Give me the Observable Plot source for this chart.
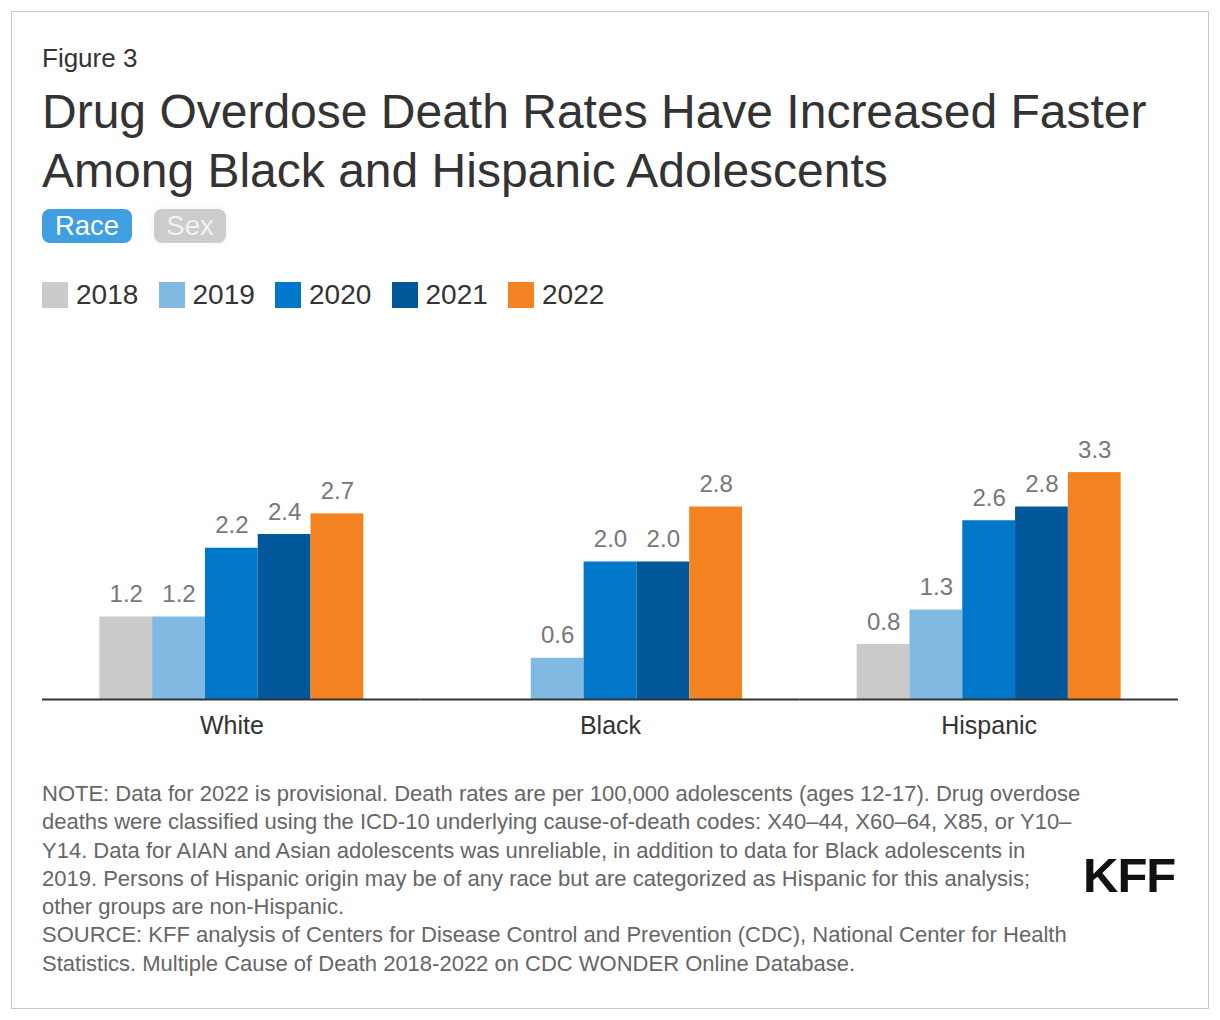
<!DOCTYPE html>
<html>
<head>
<meta charset="utf-8">
<script src="https://cdn.jsdelivr.net/npm/d3@7"></script>
<script src="https://cdn.jsdelivr.net/npm/@observablehq/plot@0.6"></script>
<style>
  html, body { margin: 0; padding: 0; background: #fff; }
  body { width: 1220px; height: 1020px; position: relative; font-family: "Liberation Sans", Arial, Helvetica, sans-serif; color: #333; overflow: hidden; }
  .frame { position: absolute; left: 11px; top: 11px; width: 1196px; height: 996px; border: 1px solid #c8c8c8; }
  .abs { position: absolute; }
  #fig { left: 42px; top: 43px; font-size: 26px; line-height: 30px; color: #333; }
  #title { left: 42px; top: 82px; font-size: 48px; line-height: 59px; color: #333; width: 1170px; white-space: nowrap; }
  .pill { position: absolute; top: 209px; height: 34px; border-radius: 8px; color: #fff; font-size: 27.5px; line-height: 34px; text-align: center; }
  #legend { left: 42px; top: 280px; display: flex; height: 30px; align-items: center; }
  .item { display: flex; align-items: center; width: 116.5px; font-size: 28px; color: #333; }
  .sw { width: 26px; height: 26px; margin-right: 8px; flex: none; }
  #chart { left: 0; top: 320px; }
  #note { left: 42px; top: 780px; font-size: 22px; line-height: 28.3px; color: #666; white-space: nowrap; }
  #kff { left: 1083px; top: 845px; font-size: 49px; font-weight: bold; color: #111; letter-spacing: -1px; line-height: 60px; }
</style>
</head>
<body>
<div class="frame"></div>
<div id="fig" class="abs">Figure 3</div>
<div id="title" class="abs">Drug Overdose Death Rates Have Increased Faster<br>Among Black and Hispanic Adolescents</div>
<div class="pill" style="left:42px;width:90px;background:#3f9fe0;">Race</div>
<div class="pill" style="left:154px;width:72px;background:#cccccc;color:#f2f2f2;box-shadow:0 0 8px rgba(0,0,0,0.06);">Sex</div>
<div id="legend" class="abs"></div>
<div id="chart" class="abs"></div>
<div id="note" class="abs">NOTE: Data for 2022 is provisional. Death rates are per 100,000 adolescents (ages 12-17). Drug overdose<br>deaths were classified using the ICD-10 underlying cause-of-death codes: X40–44, X60–64, X85, or Y10–<br>Y14. Data for AIAN and Asian adolescents was unreliable, in addition to data for Black adolescents in<br>2019. Persons of Hispanic origin may be of any race but are categorized as Hispanic for this analysis;<br>other groups are non-Hispanic.<br>SOURCE: KFF analysis of Centers for Disease Control and Prevention (CDC), National Center for Health<br>Statistics. Multiple Cause of Death 2018-2022 on CDC WONDER Online Database.</div>
<div id="kff" class="abs">KFF</div>
<script>
const groups = ["White", "Black", "Hispanic"];
const years = ["2018", "2019", "2020", "2021", "2022"];
const colors = ["#cbcbcb", "#80bae2", "#0077c8", "#00589a", "#f58220"];
const whiteValues = [1.2, 1.2, 2.2, 2.4, 2.7];
const blackValues = [null, 0.6, 2.0, 2.0, 2.8];
const hispanicValues = [0.8, 1.3, 2.6, 2.8, 3.3];

const seriesByGroup = [whiteValues, blackValues, hispanicValues];
const data = [];
groups.forEach((g, gi) => {
  years.forEach((y, yi) => {
    const v = seriesByGroup[gi][yi];
    if (v != null) data.push({group: g, year: y, value: v});
  });
});

const legend = document.getElementById("legend");
years.forEach((y, i) => {
  const it = document.createElement("div");
  it.className = "item";
  it.innerHTML = `<div class="sw" style="background:${colors[i]}"></div><span>${y}</span>`;
  legend.appendChild(it);
});

const chart = Plot.plot({
  width: 1220,
  height: 440,
  marginLeft: 42,
  marginRight: 42,
  marginTop: 104,
  marginBottom: 61,
  style: {fontFamily: "'Liberation Sans', Arial, sans-serif", fontSize: "25px", color: "#333", background: "transparent"},
  fx: {domain: groups, padding: 0, round: false, label: null, tickSize: 0, tickPadding: 17, axis: "bottom"},
  x: {domain: years, paddingInner: 0, paddingOuter: 1.086, round: false, axis: null},
  y: {domain: [0, 4], axis: null},
  color: {domain: years, range: colors},
  marks: [
    Plot.barY(data, {fx: "group", x: "year", y: "value", fill: "year"}),
    Plot.text(data, {fx: "group", x: "year", y: "value", text: d => d.value.toFixed(1), dy: -15, lineAnchor: "bottom", fill: "#777", fontSize: 24}),
    Plot.ruleY([0], {stroke: "#333", strokeWidth: 2})
  ]
});
document.getElementById("chart").appendChild(chart);
</script>
</body>
</html>
